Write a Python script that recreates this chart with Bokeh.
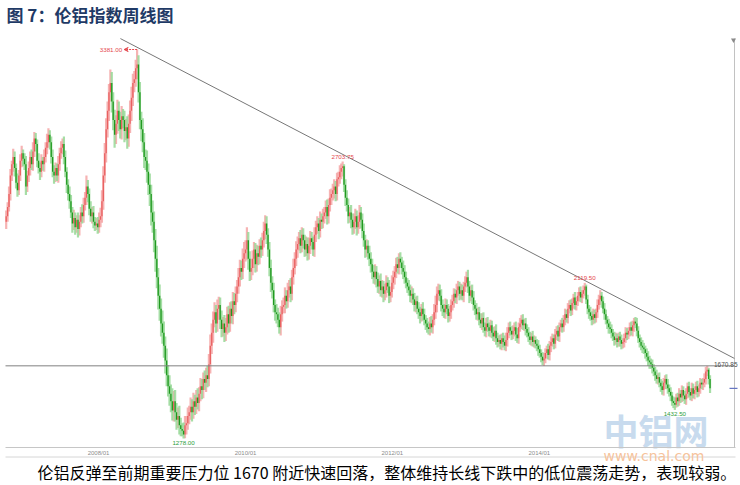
import pandas as pd
from bokeh.plotting import figure
from bokeh.models import ColumnDataSource, Label, Arrow, VeeHead, Range1d
from bokeh.embed import file_html
from bokeh.resources import INLINE
from bokeh.core.properties import value

# ---------------- data (weekly LME aluminium) ----------------
first_week = "2006-09-29"
first_open = 2450
closes = [
    2480, 2530, 2600, 2700, 2760, 2800, 2740, 2660, 2620, 2700, 2780, 2820, 2790, 2760,
    2640, 2700, 2740, 2800, 2760, 2830, 2900, 2870, 2780, 2740, 2720, 2780, 2760,
    2800, 2850, 2880, 2920, 2880, 2800, 2720, 2700, 2740, 2700, 2760, 2820, 2850,
    2870, 2800, 2720, 2650, 2600, 2560, 2500, 2440, 2470, 2420, 2460, 2410, 2450,
    2500, 2480, 2540, 2580, 2640, 2600, 2520, 2480, 2500, 2450, 2430, 2440, 2420, 2460,
    2480, 2560, 2700, 2820, 2950, 3050, 3150, 3200, 3100, 3000, 2920, 2980, 3050, 3000,
    2950, 3020, 3000, 2940, 2960, 2900, 2980, 3050, 3120, 3200, 3220, 3280, 3300, 3150,
    3000, 2950, 2880, 2800, 2780, 2720, 2650, 2600, 2500, 2450, 2350, 2250, 2150, 2050,
    1980, 1900, 1850, 1780, 1700, 1620, 1560, 1520, 1480, 1430, 1480, 1420, 1380, 1400,
    1350, 1330, 1320, 1300,
    1350, 1360, 1400, 1420, 1450, 1420, 1480, 1450, 1500, 1470, 1520, 1560, 1540, 1600,
    1580, 1620, 1600, 1680, 1780, 1850, 1920, 1960, 1900, 1980, 2000, 1920, 1870, 1900,
    1850, 1880, 1950, 1900, 1980, 1940, 2020, 2000, 2060, 2100, 2150, 2200, 2180, 2250,
    2280, 2300, 2350, 2250, 2180,
    2200, 2250, 2300, 2220, 2280, 2260, 2320, 2300, 2350, 2400, 2440, 2380, 2300, 2200,
    2120, 2080, 2000, 1960, 1950, 1920, 1880, 1950, 1990, 2000, 2050, 2020, 2080, 2100,
    2060, 2150, 2200, 2250, 2300, 2330, 2360, 2320, 2380, 2350, 2300, 2330, 2280, 2320,
    2360, 2340, 2300, 2380, 2420, 2440, 2400, 2460, 2450, 2480, 2500, 2530, 2480, 2540,
    2580, 2600, 2620, 2640, 2600, 2680, 2690, 2720, 2740, 2750,
    2650, 2580, 2540, 2480, 2500, 2460, 2420, 2450, 2480, 2420, 2450, 2500, 2460, 2400,
    2350, 2300, 2320, 2280, 2250, 2220, 2180, 2150, 2180, 2140, 2100, 2130, 2080, 2100,
    2060, 2080, 2120, 2100, 2050, 2070, 2120, 2150, 2180, 2220, 2200, 2250, 2230, 2200,
    2180, 2150, 2120, 2100, 2080, 2050, 2060, 2030, 2000, 2020, 1980, 1960, 1940, 1980,
    1950, 1920, 1900, 1880, 1870, 1900,
    1880, 1920, 1960, 2000, 2060, 2080, 2050, 2000, 1980, 1960, 2000, 1980, 1940, 1960,
    2000, 2020, 2060, 2040, 2080, 2100, 2060, 2080, 2050, 2100, 2120, 2150, 2100, 2050,
    2080, 2040, 2000, 1980, 1950, 1960, 1920, 1900, 1930, 1880, 1860, 1900, 1880, 1860,
    1890, 1850, 1830, 1860, 1820, 1800, 1810, 1790, 1820, 1800, 1780, 1810, 1850, 1880,
    1860, 1840, 1860, 1880, 1840, 1820, 1880, 1900, 1920, 1890, 1900, 1870, 1850, 1830,
    1810, 1830, 1800, 1810, 1790, 1780, 1760,
    1740, 1720, 1700, 1710, 1740, 1760, 1730, 1780, 1800, 1820, 1790, 1840, 1860, 1830,
    1880, 1900, 1880, 1920, 1950, 1930, 1980, 2000, 1970, 2010, 2040, 2000, 2020, 2050,
    2070, 2040, 2060, 2080, 2100,
    2030, 1980, 1960, 1940, 1920, 1950, 1930, 1960, 2000, 2030, 2050, 2020, 1980, 1950,
    1920, 1900, 1880, 1870, 1850, 1830, 1810, 1820, 1800, 1830, 1810, 1790, 1800, 1820,
    1850, 1840, 1860, 1880, 1860, 1890, 1910, 1900, 1860, 1820, 1800, 1780, 1770, 1760,
    1740,
    1720, 1700, 1690, 1680, 1660, 1640, 1620, 1600, 1610, 1580, 1560, 1540, 1580, 1600,
    1570, 1550, 1530, 1510, 1480, 1470, 1460, 1500, 1480, 1520, 1500, 1540, 1510, 1490,
    1520, 1560, 1530, 1510, 1550, 1520, 1540, 1560, 1530, 1550, 1580, 1570, 1580, 1600,
    1640, 1650, 1600, 1549,
]
upper_wicks = [
    30, 25, 40, 35, 20, 45, 30, 25, 50, 30, 35, 40, 20, 30, 45, 25, 35, 30, 40, 50,
    35, 30, 25, 40, 30, 35, 20, 40, 30, 45, 35, 25, 30, 40, 35, 30, 25, 45, 30, 35,
    30, 40, 35, 25, 30, 40, 35, 30, 45, 30, 25, 40, 35, 30, 45, 40, 30, 60, 35, 30,
    40, 30, 35, 25, 30, 35, 40, 45, 60, 50, 55, 60, 50, 45, 73, 60, 50, 55, 45, 60,
    50, 45, 55, 40, 50, 45, 60, 50, 55, 60, 50, 45, 45, 81, 50, 55, 45, 60, 50, 40,
    55, 45, 60, 50, 65, 55, 60, 70, 50, 60, 55, 70, 60, 50, 65, 55, 60, 50, 70, 55,
    60, 50, 45, 55, 40, 30, 45, 50, 40, 45, 35, 50, 40, 45, 35, 40, 50, 35, 45, 40,
    35, 45, 40, 50, 55, 60, 50, 45, 55, 40, 50, 45, 40, 50, 35, 45, 50, 40, 45, 35,
    40, 50, 45, 40, 35, 50, 45, 40, 55, 60, 50, 70, 45, 40, 50, 45, 40, 35, 45, 40,
    35, 45, 40, 50, 45, 40, 35, 40, 45, 35, 40, 30, 45, 35, 40, 45, 35, 40, 45, 30,
    40, 35, 45, 40, 50, 35, 45, 40, 35, 45, 40, 35, 30, 40, 35, 45, 40, 35, 30, 40,
    35, 40, 30, 45, 35, 40, 30, 35, 40, 35, 45, 30, 35, 40, 30, 35, 30, 35, 25, 25,
    10, 30, 40, 35, 30, 40, 35, 45, 40, 30, 35, 40, 30, 35, 40, 30, 35, 30, 40, 35,
    30, 35, 40, 30, 35, 30, 40, 35, 30, 35, 40, 30, 35, 30, 40, 35, 30, 35, 40, 30,
    35, 30, 40, 35, 30, 25, 35, 30, 40, 30, 35, 25, 30, 35, 30, 25, 35, 30, 25, 30,
    30, 35, 40, 30, 45, 50, 40, 35, 30, 35, 30, 25, 35, 30, 25, 35, 30, 35, 30, 25,
    35, 30, 25, 35, 30, 25, 35, 30, 40, 30, 25, 30, 35, 25, 30, 25, 30, 35, 25, 30,
    25, 30, 35, 25, 30, 25, 30, 25, 35, 30, 25, 30, 25, 30, 35, 40, 30, 25, 30, 25,
    30, 25, 30, 35, 25, 30, 25, 30, 25, 30, 25, 30, 25, 20, 30, 25, 20, 25, 30, 25,
    20, 25, 30, 25, 20, 30, 25, 30, 25, 20, 30, 25, 30, 25, 20, 30, 25, 30, 25, 30,
    25, 30, 25, 20, 30, 25, 20, 25, 30, 20, 25, 19.5, 10, 25, 20, 30, 25, 30, 25, 20,
    30, 25, 30, 20, 25, 30, 25, 20, 25, 30, 25, 20, 25, 30, 25, 20, 25, 30, 20, 25,
    30, 25, 20, 25, 30, 25, 20, 25, 30, 25, 20, 25, 30, 25, 20, 25, 30, 25, 20, 25,
    20, 25, 30, 20, 25, 20, 30, 25, 20, 25, 30, 20, 25, 20, 25, 30, 20, 25, 30, 20,
    25, 20, 25, 30, 20, 25, 20, 30, 25, 20, 25, 30, 20, 25, 20, 25, 30, 25, 20.85, 10,
    20,
]
lower_wicks = [
    40, 30, 25, 35, 30, 40, 45, 30, 35, 25, 30, 35, 40, 30, 45, 30, 35, 40, 30, 35,
    30, 40, 35, 30, 45, 30, 35, 40, 30, 35, 30, 40, 35, 30, 45, 35, 30, 40, 35, 30,
    35, 40, 30, 45, 35, 40, 30, 50, 35, 40, 30, 45, 35, 30, 40, 35, 30, 40, 45, 35,
    30, 40, 35, 30, 25, 35, 30, 40, 35, 45, 40, 50, 45, 55, 50, 60, 55, 70, 50, 55,
    60, 50, 55, 45, 60, 50, 55, 45, 50, 55, 45, 50, 40, 60, 55, 50, 65, 55, 60, 50,
    60, 55, 65, 70, 60, 65, 70, 60, 75, 65, 70, 60, 65, 70, 60, 55, 65, 60, 55, 60,
    50, 55, 45, 50, 40, 30, 22, 20, 50, 35, 45, 40, 50, 35, 45, 40, 35, 45, 40, 50,
    45, 40, 50, 45, 40, 50, 45, 55, 40, 50, 45, 60, 50, 45, 40, 50, 45, 40, 50, 45,
    40, 45, 50, 40, 45, 40, 50, 45, 40, 50, 45, 55, 60, 50, 45, 40, 50, 45, 40, 45,
    40, 45, 35, 40, 45, 50, 40, 45, 50, 45, 40, 45, 50, 40, 35, 45, 40, 35, 45, 40,
    35, 40, 45, 35, 40, 35, 40, 45, 35, 40, 35, 45, 40, 35, 40, 35, 45, 40, 35, 40,
    40, 35, 45, 35, 40, 35, 40, 35, 45, 40, 35, 40, 35, 45, 40, 35, 40, 35, 40, 45,
    40, 45, 35, 40, 35, 45, 40, 35, 40, 45, 35, 40, 45, 40, 35, 45, 40, 35, 40, 45,
    40, 35, 40, 45, 35, 40, 35, 40, 45, 35, 40, 35, 40, 35, 30, 35, 40, 35, 30, 35,
    30, 35, 40, 35, 30, 35, 30, 35, 40, 30, 35, 40, 30, 35, 40, 30, 35, 30, 35, 30,
    30, 35, 30, 35, 30, 35, 40, 35, 30, 35, 40, 30, 35, 30, 35, 30, 35, 30, 35, 30,
    35, 30, 35, 30, 25, 35, 30, 25, 35, 40, 30, 35, 30, 35, 30, 35, 30, 25, 35, 30,
    30, 35, 25, 30, 35, 30, 25, 30, 35, 30, 25, 30, 35, 30, 25, 30, 35, 30, 25, 30,
    25, 30, 35, 25, 30, 25, 30, 25, 30, 35, 25, 30, 25, 30, 25, 30, 25, 30, 35, 25,
    30, 25, 30, 25, 30, 25, 30, 35, 25, 30, 25, 30, 25, 30, 25, 30, 25, 30, 25, 30,
    25, 30, 25, 30, 25, 30, 25, 30, 25, 30, 25, 30, 25, 30, 35, 25, 30, 25, 30, 25,
    30, 25, 30, 35, 25, 30, 25, 30, 35, 25, 30, 25, 30, 25, 30, 25, 35, 30, 25, 30,
    25, 30, 25, 30, 25, 30, 35, 25, 30, 25, 30, 25, 30, 25, 30, 25, 30, 35, 25, 30,
    25, 30, 25, 30, 25, 30, 25, 30, 35, 25, 30, 25, 30, 25, 27.5, 27.5, 15, 30, 25, 30,
    25, 30, 25, 30, 25, 30, 25, 30, 25, 30, 25, 30, 25, 30, 25, 30, 25, 30, 25, 30,
    25,
]
tick_dates = ["2008-01-01", "2010-01-01", "2012-01-01", "2014-01-01"]
resistance = 1670.85
trend_dates = ["2008-04-19", "2016-08-28"]
trend_prices = [3440, 1711]
high_marks = [239, 411]              # candle index of labelled highs
high_texts = ["2703.75", "2119.50"]
low_marks = [126, 475]               # candle index of labelled lows
low_texts = ["1278.00", "1432.50"]
peak_mark = 93
peak_text = "3381.00"

title_text = "图 7：伦铝指数周线图"
caption_text = "伦铝反弹至前期重要压力位 1670 附近快速回落，整体维持长线下跌中的低位震荡走势，表现较弱。"
watermark_text = "中铝网"
watermark_url = "www.cnal.com"

# ---------------- derived ----------------
n = min(len(closes), len(upper_wicks), len(lower_wicks))
closes = closes[:n]
dates = pd.date_range(first_week, periods=n, freq="7D")
opens = [first_open] + closes[:-1]
highs = [max(o, c) + u for o, c, u in zip(opens, closes, upper_wicks[:n])]
lows = [min(o, c) - l for o, c, l in zip(opens, closes, lower_wicks[:n])]
up = [c >= o for o, c in zip(opens, closes)]

DAY = 86400000.0
def ms(ts):
    return (pd.Timestamp(ts) - pd.Timestamp("1970-01-01")) / pd.Timedelta(milliseconds=1)

# layout calibration (screen pixels of the canvas)
W, H = 740, 485
ORIGIN = ms("2008-01-01"); ORIGIN_PX = 98.0; PX_PER_DAY = 0.2011
TOP_PRICE, TOP_PX, BOT_PRICE, BOT_PX = 3381.0, 49.0, 1278.0, 438.0
K = (TOP_PRICE - BOT_PRICE) / (BOT_PX - TOP_PX)

def px_x(x):
    return ORIGIN + (x - ORIGIN_PX) / PX_PER_DAY * DAY

def px_y(y):
    return TOP_PRICE - (y - TOP_PX) * K

AREA_L, AREA_R, AREA_T, AREA_B, AXIS2_B = 5, 734, 38, 447, 456.5

df = pd.DataFrame(dict(date=dates, open=opens, close=closes, high=highs, low=lows, up=up))
src_up = ColumnDataSource(df[df.up])
src_dn = ColumnDataSource(df[~df.up])

p = figure(width=W, height=H, x_axis_location=None, y_axis_location=None,
           x_range=Range1d(px_x(0), px_x(W)), y_range=Range1d(px_y(H), px_y(0)),
           min_border=0, min_border_left=0, min_border_right=0, min_border_top=0, min_border_bottom=0,
           toolbar_location=None, output_backend="svg", outline_line_color=None,
           background_fill_color="white", border_fill_color="white")
p.grid.visible = False

# frame lines (bottom axis, lower rule, right border)
p.segment([px_x(AREA_L)], [px_y(AREA_B)], [px_x(AREA_R + 1)], [px_y(AREA_B)], line_color="#c6c6c6", line_width=1)
p.segment([px_x(AREA_L)], [px_y(AXIS2_B)], [px_x(AREA_R + 1)], [px_y(AXIS2_B)], line_color="#d6d6d6", line_width=1)
p.segment([px_x(AREA_R)], [px_y(AREA_T)], [px_x(AREA_R)], [px_y(AREA_B)], line_color="#c2c2c2", line_width=1)
p.scatter([px_x(AREA_R - 1)], [px_y(AREA_T + 1.5)], marker="inverted_triangle", size=5,
          fill_color="#8a8a8a", line_color=None)

# x tick labels on the date scale
for d in tick_dates:
    p.add_layout(Label(x=ms(d), y=H - 452.5, x_units="data", y_units="screen",
                       text=pd.Timestamp(d).strftime("%Y/%m"), text_align="center",
                       text_baseline="middle", text_font="Liberation Sans", text_font_size="6px",
                       text_color="#8c8c8c"))

# watermark (behind candles)
p.add_layout(Label(x=603, y=H - 428.5, x_units="screen", y_units="screen", text=watermark_text,
                   text_font="Noto Sans CJK SC", text_font_style="bold", text_font_size="35px",
                   text_color="#c8dbee", text_baseline="middle", level="underlay"))

# candles
p.segment("date", "high", "date", "low", source=src_up, line_color="#f4a6a6", line_width=2.2, line_alpha=0.85)
p.segment("date", "high", "date", "low", source=src_dn, line_color="#96d896", line_width=2.2, line_alpha=0.85)
p.segment("date", "open", "date", "close", source=src_up, line_color="#e96060", line_width=1.3)
p.segment("date", "open", "date", "close", source=src_dn, line_color="#1f991f", line_width=1.3)

# resistance and trend lines
p.segment([px_x(AREA_L)], [resistance], [px_x(AREA_R)], [resistance], line_color="#808080", line_width=1)
p.line([ms(d) for d in trend_dates], trend_prices, line_color="#777777", line_width=1)

# value marks
p.text([dates[i] for i in high_marks], [highs[i] for i in high_marks], text=high_texts,
       text_align="center", text_baseline="alphabetic", y_offset=-5,
       text_font=value("Liberation Sans"), text_font_size="6.2px", text_color="#e5484d")
p.text([dates[i] for i in low_marks], [lows[i] for i in low_marks], text=low_texts,
       text_align="center", text_baseline="top", y_offset=2.5,
       text_font=value("Liberation Sans"), text_font_size="6.2px", text_color="#2c9e3a")

pk_x = ms(dates[peak_mark]); pk_y = highs[peak_mark]
p.text([dates[peak_mark]], [pk_y], text=[peak_text], text_align="right", text_baseline="middle",
       x_offset=-15, text_font=value("Liberation Sans"), text_font_size="6.2px", text_color="#e5484d")
p.add_layout(Arrow(x_start=pk_x, y_start=pk_y, x_end=pk_x - 13 / PX_PER_DAY * DAY, y_end=pk_y,
                   line_color="#e5484d", line_width=1, line_dash="2 1",
                   end=VeeHead(size=4, line_color="#e5484d", line_width=1, fill_color="#e5484d")))

p.add_layout(Label(x=W - 3, x_units="screen", y=resistance, y_units="data", text="1670.85",
                   text_align="right", text_baseline="alphabetic", y_offset=1.5,
                   text_font="Liberation Sans", text_font_size="6.5px", text_color="#505050"))

# last price marker
p.scatter([px_x(AREA_R - 1)], [closes[-1]], marker="dash", size=8, line_color="#6272c0", line_width=1.2)

p.add_layout(Label(x=603, y=H - 455, x_units="screen", y_units="screen", text=watermark_url,
                   text_font="DejaVu Sans", text_font_size="14px",
                   text_color="#f6c39c", text_baseline="middle"))

# title and caption
p.add_layout(Label(x=6, y=H - 13.5, x_units="screen", y_units="screen", text=title_text,
                   text_font="Noto Sans CJK SC", text_font_style="bold", text_font_size="17px",
                   text_color="#1f3a66", text_baseline="middle"))
p.add_layout(Label(x=37, y=H - 471, x_units="screen", y_units="screen", text=caption_text,
                   text_font="Noto Sans CJK SC", text_font_size="16px",
                   text_color="#000000", text_baseline="middle"))

open("out.html", "w").write(file_html(p, INLINE))
